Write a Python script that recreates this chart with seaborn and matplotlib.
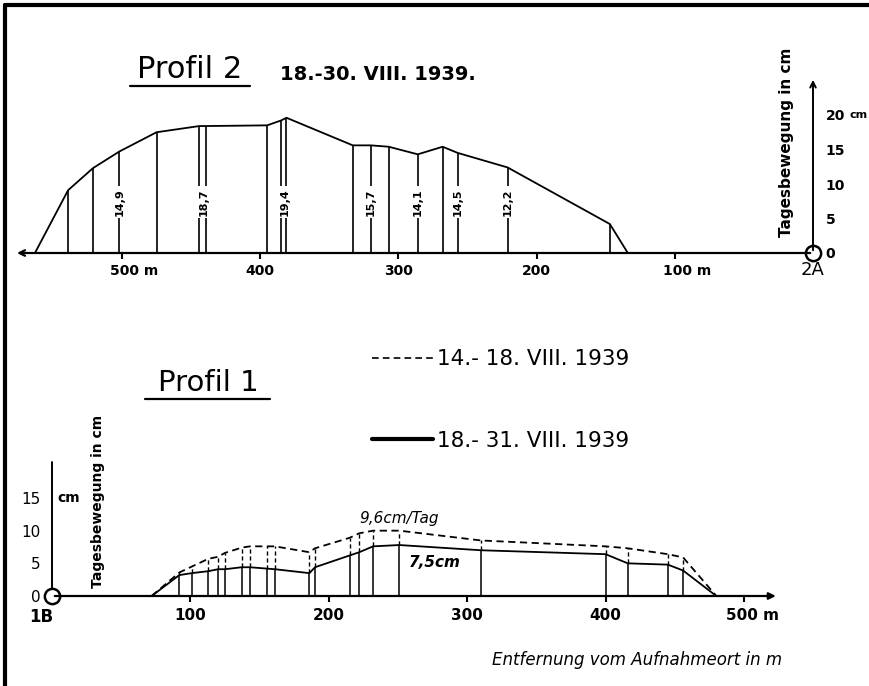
import numpy as np
import pandas as pd
import seaborn as sns
import matplotlib.pyplot as plt
import matplotlib.transforms as mtransforms
from matplotlib.lines import Line2D

sns.set_style("white")
plt.rcParams['font.family'] = ['DejaVu Sans']
plt.rcParams['text.color'] = 'black'
plt.rcParams['xtick.color'] = 'black'
plt.rcParams['ytick.color'] = 'black'

# Profil 2 (18.-30. VIII. 1939), distance from 2A in m, daily movement in cm
p2_dist = [563, 539, 521, 502, 475, 444, 439, 395, 385, 381, 333, 320, 307, 286, 268, 257, 221, 147, 134]
p2_cm = [0, 9.1, 12.3, 14.7, 17.5, 18.4, 18.4, 18.5, 19.2, 19.6, 15.6, 15.6, 15.4, 14.3, 15.4, 14.5, 12.4, 4.2, 0]
p2_label_dist = [502, 441, 382, 320, 286, 257, 221]
p2_labels = ["14,9", "18,7", "19,4", "15,7", "14,1", "14,5", "12,2"]

# Profil 1, distance from 1B in m
p1_dist = [72, 92, 101, 113, 120, 125, 137, 143, 155, 161, 186, 190, 215, 222, 232, 251, 310, 400, 416, 445, 456, 480]
p1_solid = [0, 3.2, 3.5, 3.8, 4.1, 4.1, 4.4, 4.4, 4.2, 4.1, 3.5, 4.4, 6.2, 6.7, 7.6, 7.8, 7.0, 6.4, 5.0, 4.8, 3.9, 0]
p1_dashed = [0, 3.6, 4.5, 5.7, 6.0, 6.6, 7.4, 7.6, 7.6, 7.6, 6.7, 7.3, 8.9, 9.6, 10.0, 10.0, 8.5, 7.6, 7.3, 6.4, 5.9, 0]
period_a = "14.- 18. VIII. 1939"
period_b = "18.- 31. VIII. 1939"

W, H = 870, 686
fig = plt.figure(figsize=(W / 100, H / 100), dpi=100)


def px_axes(left, top, right, bottom, xcal, ycal):
    # axes covering a pixel box, limits from two calibration points per axis
    ax = fig.add_axes([left / W, 1 - bottom / H, (right - left) / W, (bottom - top) / H])
    (xv1, xp1), (xv2, xp2) = xcal
    (yv1, yp1), (yv2, yp2) = ycal
    sx = (xp2 - xp1) / (xv2 - xv1)
    sy = (yp2 - yp1) / (yv2 - yv1)
    ax.set_xlim(xv1 + (left - xp1) / sx, xv1 + (right - xp1) / sx)
    ax.set_ylim(yv1 + (bottom - yp1) / sy, yv1 + (top - yp1) / sy)
    ax.patch.set_alpha(0)
    for s in ax.spines.values():
        s.set_visible(False)
    return ax


def ftext(x, y, s, **kw):
    fig.text(x / W, 1 - y / H, s, ha=kw.pop('ha', 'center'), va=kw.pop('va', 'center'), **kw)


def fline(x0, y0, x1, y1, lw=1.5):
    fig.add_artist(Line2D([x0 / W, x1 / W], [1 - y0 / H, 1 - y1 / H], color='black', lw=lw))


def nudge_unit_labels(ax, dx_px):
    # keep the number centred on its tick, the unit hangs to the right
    for lab in ax.get_xticklabels():
        if lab.get_text().endswith("m"):
            lab.set_transform(lab.get_transform() +
                              mtransforms.ScaledTranslation(dx_px / 100, 0, fig.dpi_scale_trans))


# ---------------- Profil 2 ----------------
ax2 = px_axes(10, 25, 870, 300, ((0, 813), (500, 122)), ((0, 253), (20, 115)))
sns.lineplot(x=p2_dist, y=p2_cm, sort=False, estimator=None, color='black', lw=1.3, ax=ax2)
ax2.vlines(p2_dist[1:-1], 0, p2_cm[1:-1], color='black', lw=1.2)
for d, s in zip(p2_label_dist, p2_labels):
    ax2.text(d, 7.4, s, rotation=90, ha='center', va='center', fontsize=8, fontweight='bold',
             bbox=dict(facecolor='white', edgecolor='none', pad=1.5))

ax2.annotate('', xy=(578, 0), xytext=(0, 0), arrowprops=dict(arrowstyle='->', lw=1.6, color='black'))
ax2.annotate('', xy=(0, 25.5), xytext=(0, 0), arrowprops=dict(arrowstyle='->', lw=1.4, color='black'))
ax2.plot([0], [0], 'o', ms=11, mfc='white', mec='black', mew=1.8)
ax2.spines['bottom'].set_visible(True)
ax2.spines['bottom'].set_position(('data', 0))
ax2.spines['bottom'].set_linewidth(0)
ax2.spines['right'].set_visible(True)
ax2.spines['right'].set_position(('data', 0))
ax2.spines['right'].set_linewidth(0)
ax2.set_xticks([500, 400, 300, 200, 100])
ax2.set_xticklabels(["500 m", "400", "300", "200", "100 m"], fontsize=10, fontweight='bold')
ax2.tick_params(axis='x', direction='out', length=4, width=1.5, pad=4, bottom=True)
nudge_unit_labels(ax2, 12)
ax2.yaxis.tick_right()
ax2.set_yticks([0, 5, 10, 15, 20])
ax2.set_yticklabels(["0", "5", "10", "15", "20"], fontsize=10, fontweight='bold')
ax2.tick_params(axis='y', length=0, pad=9)
ax2.set_xlabel("")
ax2.set_ylabel("")
ax2.text(-33, 20, "cm", ha='center', va='center', fontsize=8, fontweight='bold')
ax2.text(0, -2.5, "2A", ha='center', va='center', fontsize=13)
ax2.text(19, 16, "Tagesbewegung in cm", rotation=90, ha='center', va='center', fontsize=11, fontweight='bold')

ftext(190, 70, "Profil 2", fontsize=22)
fline(130, 86, 250, 86, lw=1.6)
ftext(280, 75, "18.-30. VIII. 1939.", ha='left', fontsize=14, fontweight='bold')

# ---------------- Profil 1 ----------------
ax1 = px_axes(10, 420, 870, 640, ((0, 52), (500, 744)), ((0, 596), (15, 498)))
df1 = pd.DataFrame({
    'dist': p1_dist + p1_dist,
    'cm': p1_dashed + p1_solid,
    'period': [period_a] * len(p1_dist) + [period_b] * len(p1_dist),
})
sns.lineplot(data=df1, x='dist', y='cm', hue='period', style='period',
             palette={period_a: 'black', period_b: 'black'},
             dashes={period_a: (4, 2.5), period_b: ''},
             sort=False, estimator=None, lw=1.3, ax=ax1)
ax1.vlines(p1_dist[1:-1], 0, p1_solid[1:-1], color='black', lw=1.1)
ax1.vlines(p1_dist[1:-1], p1_solid[1:-1], p1_dashed[1:-1], color='black', lw=1.0, linestyles=(0, (3, 2)))

ax1.annotate('', xy=(525, 0), xytext=(0, 0), arrowprops=dict(arrowstyle='-|>', lw=1.6, color='black'))
ax1.plot([0, 0], [0, 20.5], color='black', lw=1.4)
ax1.plot([0], [0], 'o', ms=11, mfc='white', mec='black', mew=1.8)
ax1.spines['bottom'].set_visible(True)
ax1.spines['bottom'].set_position(('data', 0))
ax1.spines['bottom'].set_linewidth(0)
ax1.spines['left'].set_visible(True)
ax1.spines['left'].set_position(('data', 0))
ax1.spines['left'].set_linewidth(0)
ax1.set_xticks([100, 200, 300, 400, 500])
ax1.set_xticklabels(["100", "200", "300", "400", "500 m"], fontsize=11, fontweight='bold')
ax1.tick_params(axis='x', direction='out', length=4, width=1.5, pad=5, bottom=True)
nudge_unit_labels(ax1, 9)
ax1.set_yticks([0, 5, 10, 15])
ax1.set_yticklabels(["0", "5", "10", "15"], fontsize=11)
ax1.tick_params(axis='y', length=0, pad=8, left=True)
ax1.set_xlabel("")
ax1.set_ylabel("")
ax1.text(-8, -3.2, "1B", ha='center', va='center', fontsize=12, fontweight='bold')
ax1.text(12, 15, "cm", ha='center', va='center', fontsize=10, fontweight='bold')
ax1.text(33, 14.5, "Tagesbewegung in cm", rotation=90, ha='center', va='center', fontsize=10, fontweight='bold')
ax1.text(251, 11.8, "9,6cm/Tag", ha='center', va='center', fontsize=11, style='italic')
ax1.text(258, 5.2, "7,5cm", ha='left', va='center', fontsize=11, style='italic', fontweight='bold')

leg = ax1.legend(loc='upper left', bbox_to_anchor=(343 / 860, (640 - 330) / 220), frameon=False,
                 fontsize=15.5, handlelength=2.8, handletextpad=0.2, labelspacing=2.85, title=None)
leg.get_lines()[0].set_linewidth(1.2)
leg.get_lines()[1].set_linewidth(3)

ftext(208, 383, "Profil 1", fontsize=21)
fline(145, 399, 270, 399, lw=1.6)
ftext(637, 660, "Entfernung vom Aufnahmeort in m", fontsize=12, style='italic')

# frame of the scan
fline(5, 5, 5, H, lw=3)
fline(5, 5, W, 5, lw=3)

fig.savefig("out.png", dpi=100)
